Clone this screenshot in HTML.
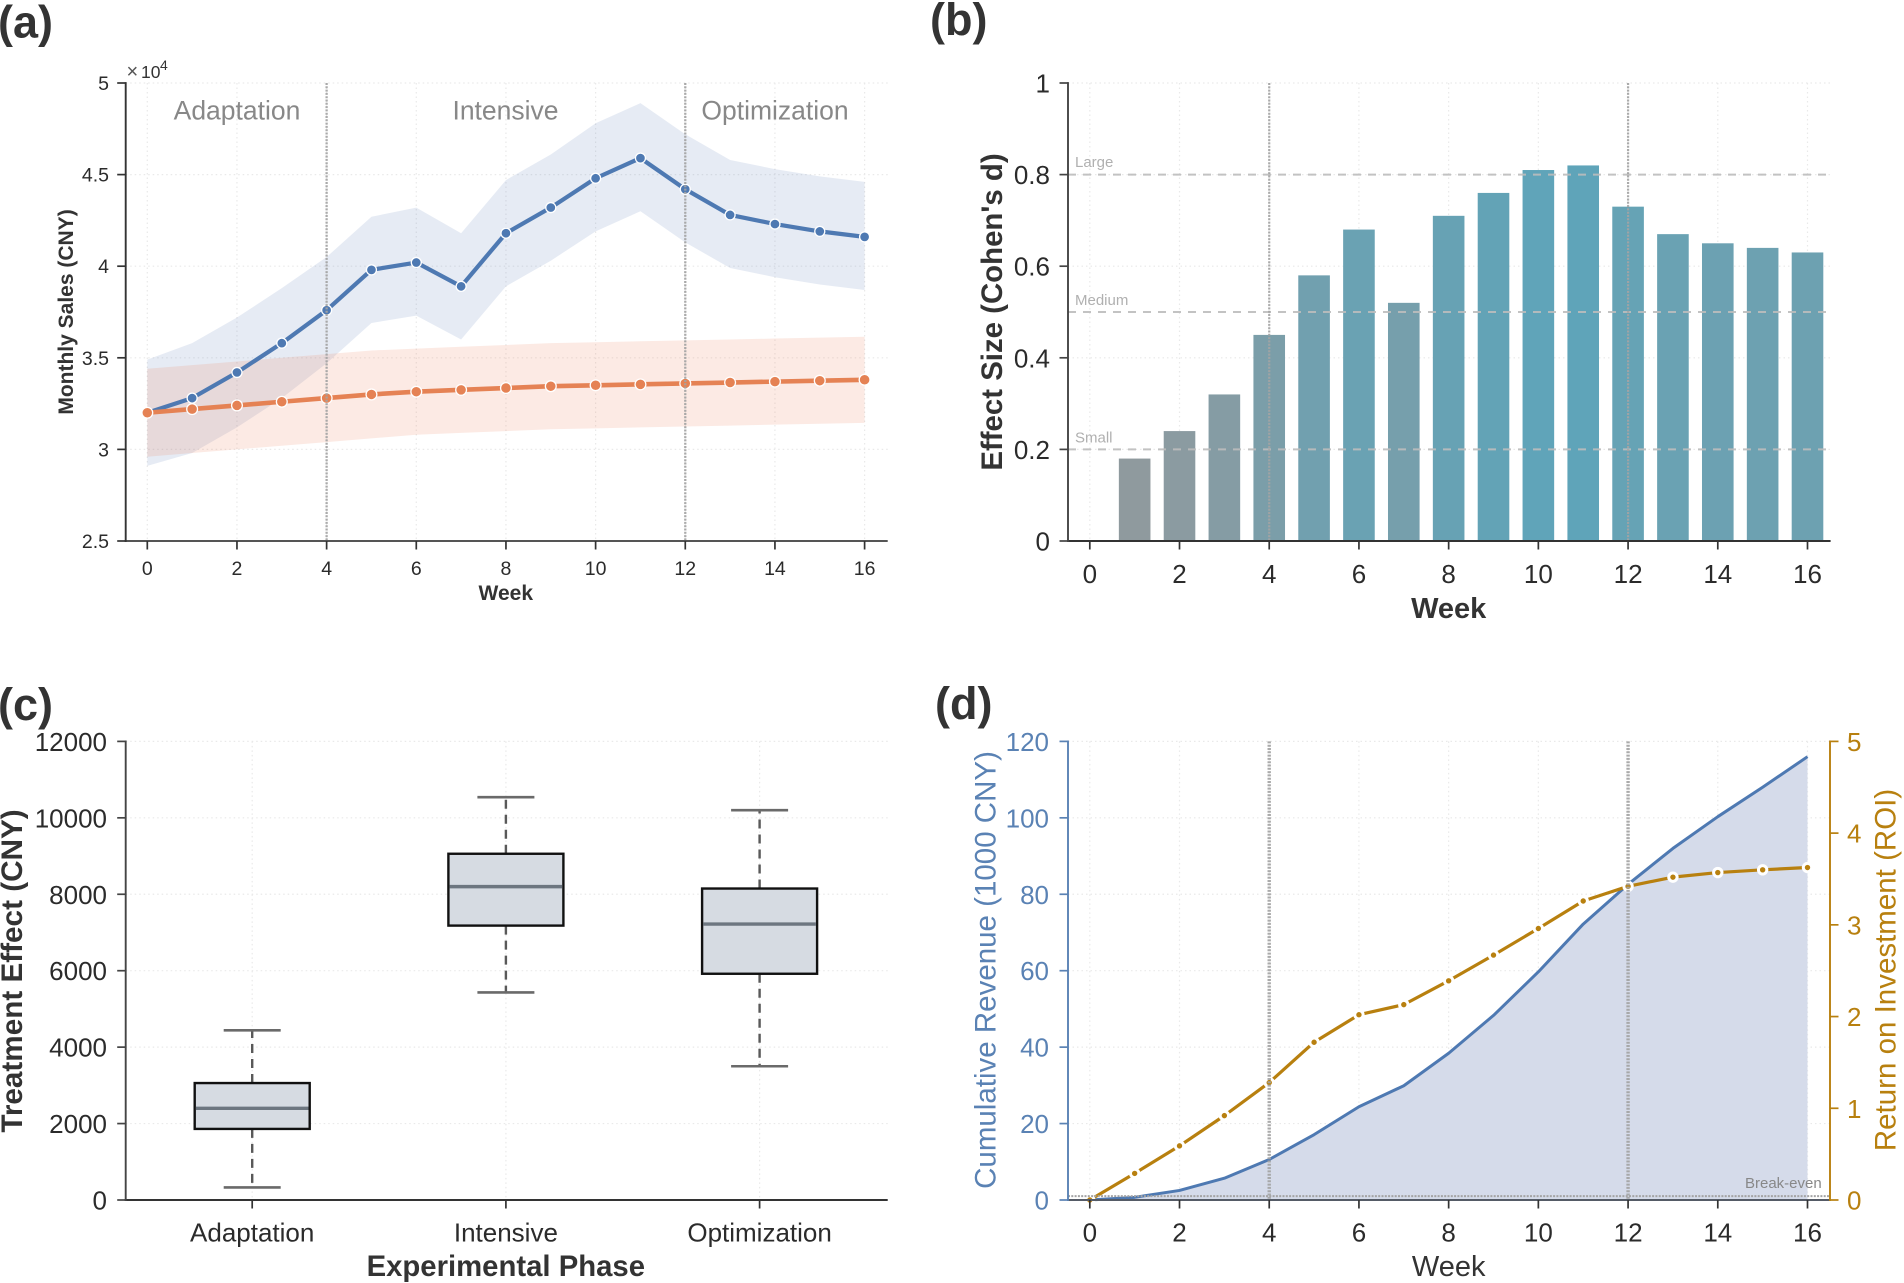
<!DOCTYPE html>
<html lang="en">
<head>
<meta charset="utf-8">
<title>Experimental results: four-panel figure</title>
<style>
  html, body { margin: 0; padding: 0; background: #fff; }
  svg { display: block; font-family: "Liberation Sans", Arial, sans-serif; }
</style>
</head>
<body>
<svg id="figure" xmlns="http://www.w3.org/2000/svg" width="1904" height="1283" viewBox="0 0 1904 1283">
  <rect x="0" y="0" width="1904" height="1283" fill="#ffffff"/>

  <g id="panel-a"></g>
  <g id="panel-b"></g>
  <g id="panel-c"></g>
  <g id="panel-d"></g>

  <g font-weight="700" font-size="45" fill="#333333">
    <text x="-2" y="37.5">(a)</text>
    <text x="930" y="35">(b)</text>
    <text x="-2" y="720">(c)</text>
    <text x="935" y="719">(d)</text>
  </g>

  <g fill="#333333" font-weight="700">
    <text transform="translate(73,312) rotate(-90)" text-anchor="middle" font-size="21">Monthly Sales (CNY)</text>
    <text x="505.8" y="600" text-anchor="middle" font-size="21">Week</text>
    <text transform="translate(1002,312) rotate(-90)" text-anchor="middle" font-size="29.4">Effect Size (Cohen's d)</text>
    <text x="1448.7" y="618" text-anchor="middle" font-size="29">Week</text>
    <text transform="translate(22,971) rotate(-90)" text-anchor="middle" font-size="29.7">Treatment Effect (CNY)</text>
    <text x="505.8" y="1276" text-anchor="middle" font-size="29.3">Experimental Phase</text>
  </g>
  <text transform="translate(995.5,970) rotate(-90)" text-anchor="middle" font-size="29.5" fill="#5a82b4">Cumulative Revenue (1000 CNY)</text>
  <text transform="translate(1895.5,970) rotate(-90)" text-anchor="middle" font-size="29.5" fill="#b8800f">Return on Investment (ROI)</text>
  <text x="1448.7" y="1276" text-anchor="middle" font-size="29" fill="#333333">Week</text>

  <g fill="#333333">
    <text x="126.5" y="78" font-size="20" fill="#555555">&#215;</text>
    <text x="141" y="78" font-size="17.5">10</text>
    <text x="160" y="70" font-size="14">4</text>
  </g>

  <g fill="#888888" font-size="26.5" text-anchor="middle">
    <text x="237" y="119.5">Adaptation</text>
    <text x="505.5" y="119.5">Intensive</text>
    <text x="775" y="119.5">Optimization</text>
  </g>

  <g fill="#b0b0b0" font-size="15">
    <text x="1075" y="167">Large</text>
    <text x="1075" y="305">Medium</text>
    <text x="1075" y="442.5">Small</text>
  </g>

  <text x="1745" y="1188" font-size="15" fill="#888888">Break-even</text>
</svg>

<script>
/* Shared */
const weeks = [0,1,2,3,4,5,6,7,8,9,10,11,12,13,14,15,16];
const weekTicks = [0,2,4,6,8,10,12,14,16];
const phaseBoundaries = [4,12];

/* Panel (a), values in units of 10^4 CNY */
const salesTicks = [2.5,3,3.5,4,4.5,5];
const salesTickLabels = ['2.5','3','3.5','4','4.5','5'];
const treatmentSales = [3.2,3.28,3.42,3.58,3.76,3.98,4.02,3.89,4.18,4.32,4.48,4.59,4.42,4.28,4.23,4.19,4.16];
const treatmentUpper = [3.49,3.58,3.72,3.88,4.05,4.27,4.32,4.18,4.47,4.61,4.78,4.89,4.72,4.58,4.53,4.49,4.46];
const treatmentLower = [2.91,2.98,3.12,3.28,3.47,3.69,3.73,3.6,3.89,4.03,4.19,4.3,4.13,3.99,3.94,3.9,3.87];
const controlSales = [3.2,3.22,3.24,3.26,3.28,3.3,3.315,3.325,3.335,3.345,3.35,3.355,3.36,3.365,3.37,3.375,3.38];
const controlUpper = [3.44,3.46,3.48,3.5,3.52,3.54,3.55,3.56,3.57,3.58,3.585,3.59,3.595,3.6,3.605,3.61,3.615];
const controlLower = [2.96,2.98,3.0,3.02,3.04,3.06,3.08,3.09,3.1,3.11,3.115,3.12,3.125,3.13,3.135,3.14,3.145];

/* Panel (b) */
const effectTicks = [0,0.2,0.4,0.6,0.8,1];
const effectTickLabels = ['0','0.2','0.4','0.6','0.8','1'];
const effectSizes = [0,0.18,0.24,0.32,0.45,0.58,0.68,0.52,0.71,0.76,0.81,0.82,0.73,0.67,0.65,0.64,0.63];
const effectThresholds = [0.2,0.5,0.8];

/* Panel (c) */
const boxPhases = ['Adaptation','Intensive','Optimization'];
const boxLow = [330,5430,3500];
const boxQ1 = [1860,7180,5920];
const boxMedian = [2400,8200,7220];
const boxQ3 = [3060,9060,8150];
const boxHigh = [4440,10540,10200];
const treatmentEffectTicks = [0,2000,4000,6000,8000,10000,12000];

/* Panel (d) */
const revenueTicks = [0,20,40,60,80,100,120];
const roiTicks = [0,1,2,3,4,5];
const cumulativeRevenue = [0,0.7,2.5,5.7,10.6,17.1,24.4,29.9,38.4,48.3,59.7,72.2,82.6,92,100.3,108,116];
const returnOnInvestment = [0,0.29,0.59,0.92,1.28,1.72,2.02,2.13,2.39,2.67,2.96,3.26,3.42,3.52,3.57,3.6,3.625];
const breakEvenRevenue = [1];

const SVG_NS = 'http://www.w3.org/2000/svg';

function mk(tag, parent, attrs) {
  const el = document.createElementNS(SVG_NS, tag);
  for (const key in attrs) el.setAttribute(key, attrs[key]);
  parent.appendChild(el);
  return el;
}
function linScale(d0, d1, r0, r1) {
  return v => r0 + (v - d0) * (r1 - r0) / (d1 - d0);
}
function pointsOf(xs, ys, sx, sy) {
  return xs.map((x, i) => sx(x).toFixed(2) + ',' + sy(ys[i]).toFixed(2)).join(' ');
}
function bandPoints(xs, up, lo, sx, sy) {
  const top = xs.map((x, i) => sx(x).toFixed(2) + ',' + sy(up[i]).toFixed(2));
  const bottom = xs.map((x, i) => sx(x).toFixed(2) + ',' + sy(lo[i]).toFixed(2)).reverse();
  return top.concat(bottom).join(' ');
}

function drawGrid(parent, xVals, yVals, sx, sy, box) {
  const g = mk('g', parent, { stroke: '#e9e9e9', 'stroke-width': 1.2, 'stroke-dasharray': '1.5 3', fill: 'none' });
  
  
  xVals.forEach(v => {
    const l = mk('line', g, { x1: sx(v), x2: sx(v), y1: box.top, y2: box.bottom });
    
    
  });
  yVals.forEach(v => {
    const l = mk('line', g, { x1: box.left, x2: box.right, y1: sy(v), y2: sy(v) });
    
    
  });
}

function drawXAxis(parent, vals, labels, sx, box, fontSize, baseline, color) {
  const g = mk('g', parent, {});
  
  
  const axis = mk('line', g, { x1: box.left - 1, x2: box.right, y1: box.bottom, y2: box.bottom, stroke: color, 'stroke-width': 1.9 });
  
  
  vals.forEach((v, i) => {
    const t = mk('line', g, { x1: sx(v), x2: sx(v), y1: box.bottom, y2: box.bottom + 8.5, stroke: '#333333', 'stroke-width': 1.7 });
    
    
    const tx = mk('text', g, { x: sx(v), y: baseline, 'text-anchor': 'middle', 'font-size': fontSize, fill: '#2b2b2b' });
    tx.textContent = labels[i];
    
    
  });
}

function drawYAxis(parent, vals, labels, sy, axisX, top, bottom, side, labelX, fontSize, lift, lineColor, textColor) {
  const g = mk('g', parent, {});
  
  
  const axis = mk('line', g, { x1: axisX, x2: axisX, y1: top - 0.9, y2: bottom + 0.9, stroke: lineColor, 'stroke-width': 1.9 });
  
  
  vals.forEach((v, i) => {
    const t = mk('line', g, { x1: axisX, x2: axisX + side * 8.5, y1: sy(v), y2: sy(v), stroke: lineColor, 'stroke-width': 1.7 });
    
    
    const tx = mk('text', g, { x: labelX, y: sy(v) + lift, 'text-anchor': side < 0 ? 'end' : 'start', 'font-size': fontSize, fill: textColor });
    tx.textContent = labels[i];
    
    
  });
}

function drawPhaseLines(parent, sx, top, bottom, width) {
  phaseBoundaries.forEach(v => {
    const l = mk('line', parent, { x1: sx(v), x2: sx(v), y1: top, y2: bottom, stroke: '#a4a4a4', 'stroke-width': width, 'stroke-dasharray': '2 1.3', opacity: 0.92 });
    
    
  });
}

function drawMarkers(parent, xs, ys, sx, sy, radius, color, edge) {
  xs.forEach((x, i) => {
    const c = mk('circle', parent, { cx: sx(x), cy: sy(ys[i]), r: radius, fill: color, stroke: '#ffffff', 'stroke-width': edge });
    
    
  });
}

/* ---------- Panel (a) ---------- */
(function () {
  const root = document.getElementById('panel-a');
  const box = { left: 125.7, right: 887.7, top: 83, bottom: 541 };
  const sx = linScale(0, 16, 147.3, 864.6);
  const sy = linScale(2.5, 5, box.bottom, box.top);
  drawGrid(root, weekTicks, salesTicks, sx, sy, box);

  const blueBand = mk('polygon', root, { points: bandPoints(weeks, treatmentUpper, treatmentLower, sx, sy), fill: '#5578b2', 'fill-opacity': 0.15 });
  
  
  const orangeBand = mk('polygon', root, { points: bandPoints(weeks, controlUpper, controlLower, sx, sy), fill: '#ec7f55', 'fill-opacity': 0.16 });
  
  

  const blueLine = mk('polyline', root, { points: pointsOf(weeks, treatmentSales, sx, sy), fill: 'none', stroke: '#4e79b2', 'stroke-width': 4.2, 'stroke-linejoin': 'round' });
  
  
  drawMarkers(root, weeks, treatmentSales, sx, sy, 5, '#4e79b2', 1.3);

  const orangeLine = mk('polyline', root, { points: pointsOf(weeks, controlSales, sx, sy), fill: 'none', stroke: '#e58254', 'stroke-width': 4.6, 'stroke-linejoin': 'round' });
  
  
  drawMarkers(root, weeks, controlSales, sx, sy, 5.4, '#e58254', 1.3);

  drawPhaseLines(root, sx, box.top, box.bottom, 2.3);
  drawXAxis(root, weekTicks, weekTicks, sx, box, 19.5, 575, '#555555');
  drawYAxis(root, salesTicks, salesTickLabels, sy, box.left, box.top, box.bottom, -1, 109, 19.5, 7, '#333333', '#2b2b2b');
})();

/* ---------- Panel (b) ---------- */
(function () {
  const root = document.getElementById('panel-b');
  const box = { left: 1068, right: 1830.6, top: 83, bottom: 541 };
  const sx = linScale(0, 16, 1089.8, 1807.5);
  const sy = linScale(0, 1, box.bottom, box.top);
  drawGrid(root, weekTicks, effectTicks, sx, sy, box);

  const barWidth = 31.6;
  const maxEffect = Math.max.apply(null, effectSizes);
  const minEffect = 0.18;
  weeks.forEach((w, i) => {
    const t = Math.max(0, (effectSizes[i] - minEffect) / (maxEffect - minEffect));
    const color = 'rgb(' + Math.round(143 - t * 48) + ',' + Math.round(154 + t * 10) + ',' + Math.round(158 + t * 27) + ')';
    const bar = mk('rect', root, { x: sx(w) - barWidth / 2, y: sy(effectSizes[i]), width: barWidth, height: sy(0) - sy(effectSizes[i]), fill: color });
    
    
  });

  effectThresholds.forEach(v => {
    const l = mk('line', root, { x1: box.left, x2: box.right, y1: sy(v), y2: sy(v), stroke: '#bdbdbd', 'stroke-width': 2, 'stroke-dasharray': '8 7', opacity: 0.9 });
    
    
  });

  drawPhaseLines(root, sx, box.top, box.bottom, 2.2);
  drawXAxis(root, weekTicks, weekTicks, sx, box, 26, 583, '#333333');
  drawYAxis(root, effectTicks, effectTickLabels, sy, box.left, box.top, box.bottom, -1, 1050, 26, 9.5, '#444444', '#2b2b2b');
})();

/* ---------- Panel (c) ---------- */
(function () {
  const root = document.getElementById('panel-c');
  const box = { left: 125.7, right: 887.7, top: 741.4, bottom: 1200 };
  const sx = linScale(0, 2, 252.2, 759.6);
  const sy = linScale(0, 12000, box.bottom, box.top);
  const positions = boxPhases.map((p, i) => i);
  drawGrid(root, positions, treatmentEffectTicks, sx, sy, box);

  const halfBox = 57.5;
  const halfCap = 28.5;
  boxPhases.forEach((p, i) => {
    const g = mk('g', root, {});
    
    
    const cx = sx(i);
    const whiskerUp = mk('line', g, { x1: cx, x2: cx, y1: sy(boxQ3[i]), y2: sy(boxHigh[i]), stroke: '#595959', 'stroke-width': 2.4, 'stroke-dasharray': '9 6' });
    
    
    const whiskerDown = mk('line', g, { x1: cx, x2: cx, y1: sy(boxQ1[i]), y2: sy(boxLow[i]), stroke: '#595959', 'stroke-width': 2.4, 'stroke-dasharray': '9 6' });
    
    
    const capHigh = mk('line', g, { x1: cx - halfCap, x2: cx + halfCap, y1: sy(boxHigh[i]), y2: sy(boxHigh[i]), stroke: '#6a6a6a', 'stroke-width': 2.6 });
    
    
    const capLow = mk('line', g, { x1: cx - halfCap, x2: cx + halfCap, y1: sy(boxLow[i]), y2: sy(boxLow[i]), stroke: '#6a6a6a', 'stroke-width': 2.6 });
    
    
    const body = mk('rect', g, { x: cx - halfBox, y: sy(boxQ3[i]), width: halfBox * 2, height: sy(boxQ1[i]) - sy(boxQ3[i]), fill: '#d6dbe2', stroke: '#111111', 'stroke-width': 2.4 });
    
    
    const med = mk('line', g, { x1: cx - halfBox + 1.2, x2: cx + halfBox - 1.2, y1: sy(boxMedian[i]), y2: sy(boxMedian[i]), stroke: '#6d7680', 'stroke-width': 3.4 });
    
    
  });

  drawXAxis(root, positions, boxPhases, sx, box, 26, 1241.7, '#333333');
  drawYAxis(root, treatmentEffectTicks, treatmentEffectTicks, sy, box.left, box.top, box.bottom, -1, 107, 26, 9.5, '#444444', '#2b2b2b');
})();

/* ---------- Panel (d) ---------- */
(function () {
  const root = document.getElementById('panel-d');
  const box = { left: 1068, right: 1830.6, top: 741.4, bottom: 1200 };
  const sx = linScale(0, 16, 1089.8, 1807.5);
  const sy = linScale(0, 120, box.bottom, box.top);
  const syRoi = linScale(0, 5, box.bottom, box.top);
  drawGrid(root, weekTicks, revenueTicks, sx, sy, box);

  const base = sx(0).toFixed(2) + ',' + sy(0) + ' ';
  const close = ' ' + sx(16).toFixed(2) + ',' + sy(0);
  const area = mk('polygon', root, { points: base + pointsOf(weeks, cumulativeRevenue, sx, sy) + close, fill: '#d5dbea' });
  
  

  const revLine = mk('polyline', root, { points: pointsOf(weeks, cumulativeRevenue, sx, sy), fill: 'none', stroke: '#4e79b2', 'stroke-width': 3, 'stroke-linejoin': 'round' });
  
  

  const roiLine = mk('polyline', root, { points: pointsOf(weeks, returnOnInvestment, sx, syRoi), fill: 'none', stroke: '#b8800f', 'stroke-width': 3.2, 'stroke-linejoin': 'round' });
  
  
  drawMarkers(root, weeks, returnOnInvestment, sx, syRoi, 4.2, '#b8800f', 3);

  breakEvenRevenue.forEach(v => {
    const l = mk('line', root, { x1: box.left, x2: box.right, y1: sy(v), y2: sy(v), stroke: '#a4a4a4', 'stroke-width': 2, 'stroke-dasharray': '2 1.3' });
    
    
  });

  drawPhaseLines(root, sx, box.top, box.bottom, 3.4);
  drawXAxis(root, weekTicks, weekTicks, sx, box, 26, 1241.7, '#555b66');
  drawYAxis(root, revenueTicks, revenueTicks, sy, box.left, box.top, box.bottom, -1, 1049, 26, 9.5, '#5a82b4', '#5a82b4');
  drawYAxis(root, roiTicks, roiTicks, syRoi, box.right - 0.6, box.top, box.bottom, 1, 1847, 26, 9.5, '#b8800f', '#b8800f');
})();
</script>
</body>
</html>
